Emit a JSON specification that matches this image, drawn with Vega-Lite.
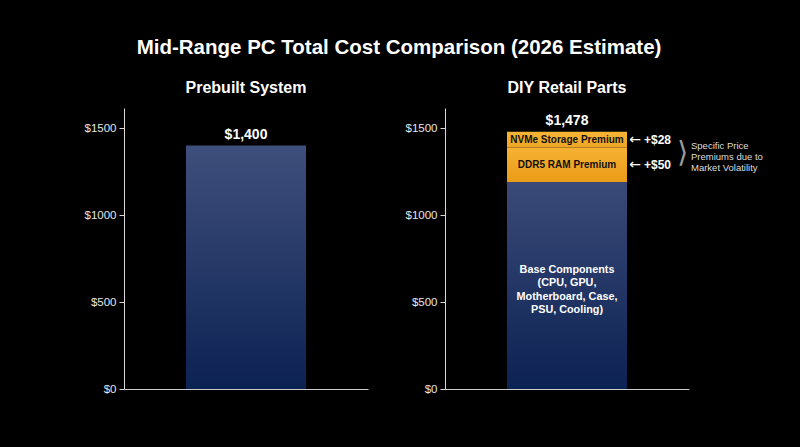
{
  "$schema": "https://vega.github.io/schema/vega-lite/v6.json",
  "background": "black",
  "autosize": {"type": "none"},
  "padding": {"left": 124, "top": 108, "right": 676, "bottom": 339},
  "title": {"text": "Mid-Range PC Total Cost Comparison (2026 Estimate)", "anchor": "start", "align": "center", "dx": 315, "fontSize": 20.5, "fontWeight": "bold", "color": "#ffffff", "offset": 22},
  "datasets": {
    "prebuilt": [{"panel": "Prebuilt System", "component": "Complete System", "start": 0, "end": 1400, "label": "$1,400"}],
    "diy": [
      {"panel": "DIY Retail Parts", "component": "Base Components", "start": 0, "end": 1190},
      {"panel": "DIY Retail Parts", "component": "DDR5 RAM Premium", "start": 1190, "end": 1388},
      {"panel": "DIY Retail Parts", "component": "NVMe Storage Premium", "start": 1388, "end": 1478}
    ],
    "diyTotal": [{"panel": "DIY Retail Parts", "total": 1478, "label": "$1,478"}],
    "premiums": [
      {"panel": "DIY Retail Parts", "name": "NVMe Storage Premium", "mid": 1433, "premium": "+$28"},
      {"panel": "DIY Retail Parts", "name": "DDR5 RAM Premium", "mid": 1289, "premium": "+$50"}
    ],
    "base": [{"panel": "DIY Retail Parts", "text": "Base Components\n(CPU, GPU,\nMotherboard, Case,\nPSU, Cooling)", "labelAt": 685}],
    "note": [{"panel": "DIY Retail Parts", "text": "Specific Price\nPremiums due to\nMarket Volatility", "labelAt": 1394, "bracket": "⟩", "bracketMid": 1355}]
  },
  "hconcat": [
    {
      "width": 244,
      "height": 281,
      "title": {"text": "Prebuilt System", "fontSize": 16, "fontWeight": "bold", "color": "#ffffff", "offset": 12},
      "data": {"name": "prebuilt"},
      "encoding": {
        "x": {"field": "panel", "type": "nominal", "scale": {"paddingInner": 0, "paddingOuter": 0}, "axis": {"title": null, "labels": false, "ticks": false, "domainColor": "#cccccc"}}
      },
      "layer": [
        {
          "mark": {"type": "bar", "size": 120, "color": {"gradient": "linear", "x1": 0, "y1": 0, "x2": 0, "y2": 1, "stops": [{"offset": 0, "color": "#3f4f7c"}, {"offset": 1, "color": "#0c2252"}]}},
          "encoding": {
            "y": {"field": "start", "type": "quantitative", "scale": {"domain": [0, 1615], "nice": false}, "axis": {"values": [0, 500, 1000, 1500], "labelExpr": "'$' + datum.value", "title": null, "grid": false, "domainColor": "#d8d8d8", "tickColor": "#d8d8d8", "tickSize": 5, "labelPadding": 3, "labelColor": "#e6e6e6", "labelFontSize": 11.5}},
            "y2": {"field": "end"}
          }
        },
        {
          "mark": {"type": "text", "fontSize": 14, "fontWeight": "bold", "color": "#ffffff", "baseline": "middle", "dy": -10},
          "encoding": {
            "y": {"field": "end", "type": "quantitative"},
            "text": {"field": "label"}
          }
        }
      ]
    },
    {
      "width": 244,
      "height": 281,
      "title": {"text": "DIY Retail Parts", "fontSize": 16, "fontWeight": "bold", "color": "#ffffff", "offset": 12},
      "encoding": {
        "x": {"field": "panel", "type": "nominal", "scale": {"paddingInner": 0, "paddingOuter": 0}, "axis": {"title": null, "labels": false, "ticks": false, "domainColor": "#cccccc"}}
      },
      "layer": [
        {
          "data": {"name": "diy"},
          "transform": [{"filter": "datum.component === 'Base Components'"}],
          "mark": {"type": "bar", "size": 120, "color": {"gradient": "linear", "x1": 0, "y1": 0, "x2": 0, "y2": 1, "stops": [{"offset": 0, "color": "#3a4a78"}, {"offset": 1, "color": "#0c2252"}]}},
          "encoding": {
            "y": {"field": "start", "type": "quantitative", "scale": {"domain": [0, 1615], "nice": false}, "axis": {"values": [0, 500, 1000, 1500], "labelExpr": "'$' + datum.value", "title": null, "grid": false, "domainColor": "#d8d8d8", "tickColor": "#d8d8d8", "tickSize": 5, "labelPadding": 3, "labelColor": "#e6e6e6", "labelFontSize": 11.5}},
            "y2": {"field": "end"}
          }
        },
        {
          "data": {"name": "diy"},
          "transform": [{"filter": "datum.component === 'DDR5 RAM Premium'"}],
          "mark": {"type": "bar", "size": 120, "color": {"gradient": "linear", "x1": 0, "y1": 0, "x2": 0, "y2": 1, "stops": [{"offset": 0, "color": "#f6b134"}, {"offset": 1, "color": "#ea9c16"}]}},
          "encoding": {
            "y": {"field": "start", "type": "quantitative"},
            "y2": {"field": "end"}
          }
        },
        {
          "data": {"name": "diy"},
          "transform": [{"filter": "datum.component === 'NVMe Storage Premium'"}],
          "mark": {"type": "bar", "size": 120, "color": {"gradient": "linear", "x1": 0, "y1": 0, "x2": 0, "y2": 1, "stops": [{"offset": 0, "color": "#f7b536"}, {"offset": 1, "color": "#eea523"}]}},
          "encoding": {
            "y": {"field": "start", "type": "quantitative"},
            "y2": {"field": "end"}
          }
        },
        {
          "data": {"name": "diyTotal"},
          "mark": {"type": "text", "fontSize": 14, "fontWeight": "bold", "color": "#ffffff", "baseline": "middle", "dy": -11},
          "encoding": {
            "y": {"field": "total", "type": "quantitative"},
            "text": {"field": "label"}
          }
        },
        {
          "data": {"name": "premiums"},
          "mark": {"type": "text", "fontSize": 10, "fontWeight": "bold", "color": "#111111", "baseline": "middle"},
          "encoding": {
            "y": {"field": "mid", "type": "quantitative"},
            "text": {"field": "name"}
          }
        },
        {
          "data": {"name": "premiums"},
          "mark": {"type": "text", "fontSize": 14, "font": "DejaVu Sans", "color": "#ffffff", "baseline": "middle", "align": "center", "dx": 68, "text": "←"},
          "encoding": {
            "y": {"field": "mid", "type": "quantitative"}
          }
        },
        {
          "data": {"name": "premiums"},
          "mark": {"type": "text", "fontSize": 12, "fontWeight": "bold", "color": "#ffffff", "baseline": "middle", "align": "left", "dx": 77},
          "encoding": {
            "y": {"field": "mid", "type": "quantitative"},
            "text": {"field": "premium"}
          }
        },
        {
          "data": {"name": "base"},
          "mark": {"type": "text", "fontSize": 10.8, "fontWeight": "bold", "color": "#ffffff", "baseline": "middle", "lineBreak": "\n", "lineHeight": 13.5},
          "encoding": {
            "y": {"field": "labelAt", "type": "quantitative"},
            "text": {"field": "text"}
          }
        },
        {
          "data": {"name": "note"},
          "mark": {"type": "text", "fontSize": 29, "color": "#9a9a9a", "baseline": "middle", "align": "center", "dx": 115, "font": "DejaVu Sans", "fontWeight": 200},
          "encoding": {
            "y": {"field": "bracketMid", "type": "quantitative"},
            "text": {"field": "bracket"}
          }
        },
        {
          "data": {"name": "note"},
          "mark": {"type": "text", "fontSize": 9.5, "color": "#dddddd", "baseline": "middle", "align": "left", "dx": 124, "lineBreak": "\n", "lineHeight": 11},
          "encoding": {
            "y": {"field": "labelAt", "type": "quantitative"},
            "text": {"field": "text"}
          }
        }
      ]
    }
  ],
  "spacing": 77,
  "bounds": "flush",
  "config": {
    "view": {"stroke": null},
    "font": "Liberation Sans",
    "axis": {"labelFont": "Liberation Sans"},
    "title": {"font": "Liberation Sans"},
    "text": {"font": "Liberation Sans"}
  }
}
